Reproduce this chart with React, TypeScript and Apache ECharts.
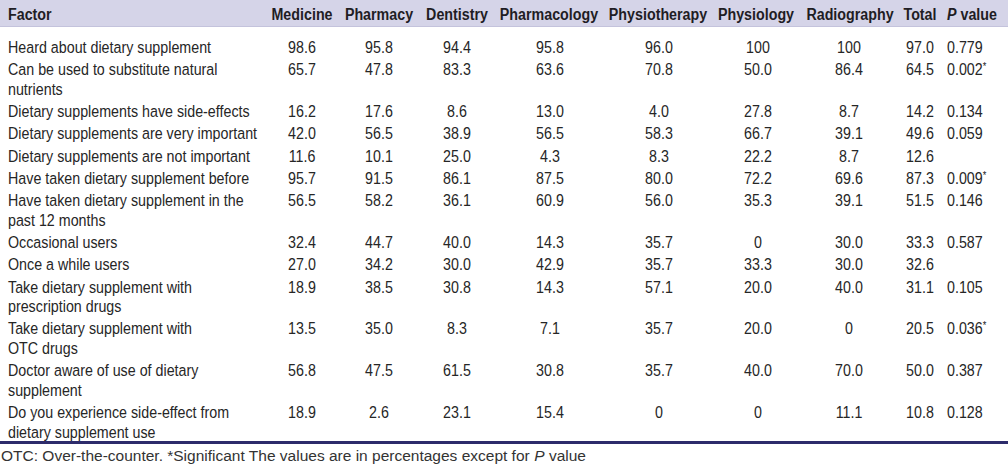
import React, { useEffect, useRef } from 'react';
import * as echarts from 'echarts';

const factors: string[] = [
  'Heard about dietary supplement',
  'Can be used to substitute natural\nnutrients',
  'Dietary supplements have side-effects',
  'Dietary supplements are very important',
  'Dietary supplements are not important',
  'Have taken dietary supplement before',
  'Have taken dietary supplement in the\npast 12 months',
  'Occasional users',
  'Once a while users',
  'Take dietary supplement with\nprescription drugs',
  'Take dietary supplement with\nOTC drugs',
  'Doctor aware of use of dietary\nsupplement',
  'Do you experience side-effect from\ndietary supplement use',
];

const columnHeaders: string[] = ['Medicine', 'Pharmacy', 'Dentistry', 'Pharmacology', 'Physiotherapy', 'Physiology', 'Radiography', 'Total'];

const medicine: string[] = ['98.6', '65.7', '16.2', '42.0', '11.6', '95.7', '56.5', '32.4', '27.0', '18.9', '13.5', '56.8', '18.9'];
const pharmacy: string[] = ['95.8', '47.8', '17.6', '56.5', '10.1', '91.5', '58.2', '44.7', '34.2', '38.5', '35.0', '47.5', '2.6'];
const dentistry: string[] = ['94.4', '83.3', '8.6', '38.9', '25.0', '86.1', '36.1', '40.0', '30.0', '30.8', '8.3', '61.5', '23.1'];
const pharmacology: string[] = ['95.8', '63.6', '13.0', '56.5', '4.3', '87.5', '60.9', '14.3', '42.9', '14.3', '7.1', '30.8', '15.4'];
const physiotherapy: string[] = ['96.0', '70.8', '4.0', '58.3', '8.3', '80.0', '56.0', '35.7', '35.7', '57.1', '35.7', '35.7', '0'];
const physiology: string[] = ['100', '50.0', '27.8', '66.7', '22.2', '72.2', '35.3', '0', '33.3', '20.0', '20.0', '40.0', '0'];
const radiography: string[] = ['100', '86.4', '8.7', '39.1', '8.7', '69.6', '39.1', '30.0', '30.0', '40.0', '0', '70.0', '11.1'];
const total: string[] = ['97.0', '64.5', '14.2', '49.6', '12.6', '87.3', '51.5', '33.3', '32.6', '31.1', '20.5', '50.0', '10.8'];
const pValues: string[] = ['0.779', '0.002*', '0.134', '0.059', '', '0.009*', '0.146', '0.587', '', '0.105', '0.036*', '0.387', '0.128'];

const footnote = 'OTC: Over-the-counter. *Significant The values are in percentages except for {i|P} value';

const FONT = "'Liberation Sans', Arial, sans-serif";
const TEXT = '#262626';
const HEAD = '#1f1d24';

type Cell = { x: number; y: number; text: string; kind: 'label' | 'value' | 'header' | 'pheader' | 'p' };

export default function App() {
  const ref = useRef<HTMLDivElement>(null);

  useEffect(() => {
    const chart = echarts.init(ref.current!, null, { renderer: 'svg' });

    const valueCols = [medicine, pharmacy, dentistry, pharmacology, physiotherapy, physiology, radiography, total];
    const valueX = [302, 379, 457, 550, 659, 758, 849, 920];
    const headerX = [302, 379, 457, 549, 658, 756, 850, 920];
    const pX = 947;
    const labelX = 8;
    const headerY = 14;
    const firstY = 47;
    const rowPitch = 22.3;
    const wrapPitch = 19.5;
    const squeeze = 0.84;

    const cells: Cell[] = [];
    cells.push({ x: labelX, y: headerY, text: 'Factor', kind: 'header' });
    columnHeaders.forEach((h, i) => cells.push({ x: headerX[i], y: headerY, text: h, kind: 'header' }));
    cells.push({ x: pX, y: headerY, text: '{i|P} value', kind: 'pheader' });

    let y = firstY;
    factors.forEach((f, r) => {
      const lines = f.split('\n');
      lines.forEach((ln, k) => cells.push({ x: labelX, y: y + k * wrapPitch, text: ln, kind: 'label' }));
      valueCols.forEach((col, c) => cells.push({ x: valueX[c], y, text: col[r], kind: 'value' }));
      if (pValues[r]) cells.push({ x: pX, y, text: pValues[r], kind: 'p' });
      y += rowPitch + (lines.length - 1) * wrapPitch;
    });

    chart.setOption({
      animation: false,
      grid: { left: 0, right: 0, top: 0, bottom: 0 },
      xAxis: { type: 'value', min: 0, max: 1008, show: false },
      yAxis: { type: 'value', min: 0, max: 466, inverse: true, show: false },
      graphic: [
        { type: 'rect', z: -10, shape: { x: 0, y: 0, width: 1008, height: 27 }, style: { fill: '#d5d4e8' } },
        { type: 'rect', z: -10, shape: { x: 0, y: 26, width: 1008, height: 1 }, style: { fill: '#c4c3dc' } },
        { type: 'rect', z: -10, shape: { x: 0, y: 441, width: 1008, height: 3 }, style: { fill: '#2d2b6b' } },
        {
          type: 'text', x: 1, y: 455,
          style: {
            text: footnote, fill: '#333', fontFamily: FONT, fontSize: 15.5,
            verticalAlign: 'middle', textVerticalAlign: 'middle',
            rich: { i: { fontStyle: 'italic', fontFamily: FONT, fontSize: 15.5, fill: '#333' } },
          },
        },
      ],
      series: [
        {
          type: 'custom',
          clip: false,
          data: cells.map((c) => [c.x, c.y]),
          renderItem: (params: any, api: any) => {
            const c = cells[params.dataIndex];
            const p = api.coord([api.value(0), api.value(1)]);
            const isHeader = c.kind === 'header' || c.kind === 'pheader';
            const align = c.kind === 'label' || c.kind === 'p' || c.kind === 'pheader' || (c.kind === 'header' && c.text === 'Factor') ? 'left' : 'center';
            const style: any = {
              text: c.kind === 'p' ? c.text.replace('*', '{s|*}') : c.text,
              x: 0, y: 0,
              fill: isHeader ? HEAD : TEXT,
              fontFamily: FONT,
              fontSize: 17,
              fontWeight: isHeader ? 'bold' : 'normal',
              align, textAlign: align,
              verticalAlign: 'middle', textVerticalAlign: 'middle',
            };
            if (c.kind === 'p') {
              style.rich = { s: { fontFamily: FONT, fontSize: 11, fill: TEXT, verticalAlign: 'top' } };
            }
            if (c.kind === 'pheader') {
              style.rich = { i: { fontFamily: FONT, fontSize: 17, fontWeight: 'bold', fontStyle: 'italic', fill: HEAD } };
            }
            return { type: 'text', x: p[0], y: p[1], scaleX: squeeze, style };
          },
        },
      ],
    });

    return () => chart.dispose();
  }, []);

  return <div ref={ref} style={{ position: 'absolute', left: 0, top: 0, width: 1008, height: 466 }} />;
}
